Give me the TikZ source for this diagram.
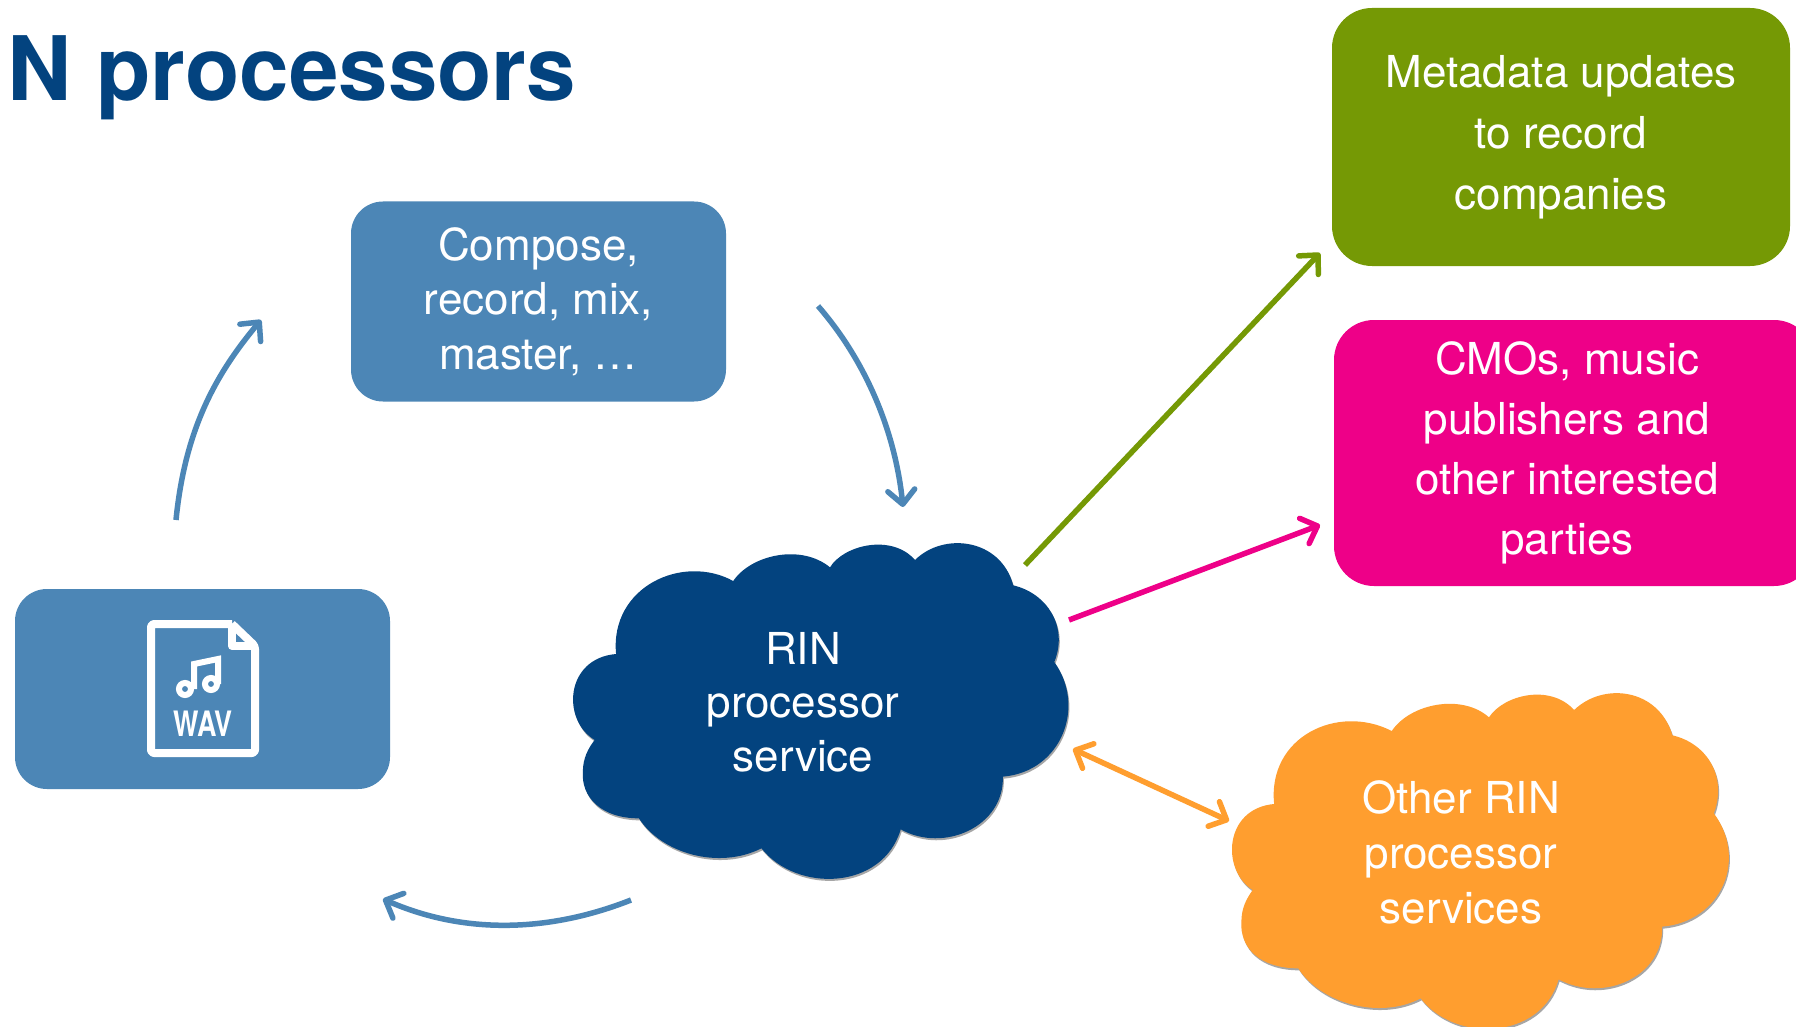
\documentclass[tikz,border=0pt]{standalone}
\usepackage{graphicx}
\usepackage{fontspec}
\setmainfont{TeX Gyre Heros}
\usetikzlibrary{arrows.meta}
\definecolor{navy}{HTML}{03437F}
\definecolor{steel}{HTML}{4C86B6}
\definecolor{olive}{HTML}{759905}
\definecolor{hotpink}{HTML}{EE0088}
\definecolor{amber}{HTML}{FF9E2F}
\tikzset{
  boxnode/.style={rounded corners=#1, inner sep=0pt, align=center, text=white},
  labeltext/.style={text=white, align=center, inner sep=0pt},
  arrowline/.style={line width=5.5pt, -{Straight Barb[length=14pt,width=27pt,round]}},
  arrowboth/.style={line width=5.5pt, {Straight Barb[length=14pt,width=27pt,round]}-{Straight Barb[length=14pt,width=27pt,round]}},
  iconline/.style={draw=white, line width=8pt, line join=round},
}
\newcommand{\bluecloud}{(541,213) .. controls (590,135) and (730,100) .. (812,172)
 .. controls (850,105) and (985,70) .. (1050,150)
 .. controls (1130,65) and (1290,85) .. (1325,226)
 .. controls (1420,250) and (1480,350) .. (1440,456)
 .. controls (1530,590) and (1460,785) .. (1296,800)
 .. controls (1300,950) and (1130,1030) .. (1010,958)
 .. controls (960,1140) and (720,1150) .. (620,1015)
 .. controls (500,1080) and (340,1030) .. (277,925)
 .. controls (170,925) and (115,860) .. (120,785)
 .. controls (120,745) and (135,715) .. (153,690)
 .. controls (60,630) and (70,445) .. (213,432)
 .. controls (195,230) and (400,130) .. (541,213) -- cycle}
\newcommand{\orangecloud}{(556,213) .. controls (610,130) and (760,100) .. (838,172)
 .. controls (880,105) and (1015,70) .. (1085,150)
 .. controls (1170,65) and (1330,85) .. (1370,226)
 .. controls (1470,250) and (1530,350) .. (1490,460)
 .. controls (1590,600) and (1510,785) .. (1340,800)
 .. controls (1345,950) and (1170,1030) .. (1040,958)
 .. controls (990,1140) and (740,1150) .. (640,1015)
 .. controls (520,1080) and (350,1030) .. (285,925)
 .. controls (170,925) and (115,860) .. (120,785)
 .. controls (120,745) and (135,715) .. (153,690)
 .. controls (60,630) and (70,445) .. (215,432)
 .. controls (195,230) and (400,130) .. (556,213) -- cycle}
\begin{document}
\begin{tikzpicture}[x=1pt,y=-1pt]
\clip (0,0) rectangle (1796,1027);
\fill[white] (0,0) rectangle (1796,1027);
% title
\node[anchor=base west, inner sep=0pt, text=navy, font=\fontsize{89}{89}\selectfont\bfseries] (title) at (7,101) {N processors};
% boxes
\node[boxnode=32pt, fill=steel, minimum width=375pt, minimum height=200pt, font=\fontsize{44}{54.5}\selectfont] (compose) at (538.5,301.5) {Compose,\\record, mix,\\master, …};
\node[boxnode=32pt, fill=steel, minimum width=375pt, minimum height=200pt] (wav) at (202.5,689) {};
\node[boxnode=40pt, fill=olive, minimum width=458pt, minimum height=258pt, font=\fontsize{44}{61}\selectfont] (meta) at (1561,137) {Metadata updates\\to record\\companies};
\node[boxnode=40pt, fill=hotpink, minimum width=480pt, minimum height=266pt] (cmo) at (1574,453) {};
\node[labeltext, font=\fontsize{44}{60}\selectfont] (cmotext) at (1567,453) {CMOs, music\\publishers and\\other interested\\parties};
% clouds
\begin{scope}[shift={(540pt,-510pt)}]
\end{scope}
\begin{scope}[x=0.35714pt,y=-0.33333pt,shift={(1512pt,-1530pt)}]
\end{scope}
\begin{scope}[cm={1/2.8,0,0,1/3,(540pt,510pt)},x=1pt,y=1pt,yscale=-1]
\end{scope}
\begin{scope}[shift={(540,510)},x=0.35714pt,y=-0.33333pt]
\end{scope}
% blue cloud: coordinates measured at 2.8x horizontally, 3x vertically
\begin{scope}[x=0.35714pt,y=-0.33333pt,xshift=540pt,yshift=-510pt]
\fill[black!35] [xshift=1pt,yshift=-2pt] \bluecloud;
\fill[navy] \bluecloud;
\end{scope}
\begin{scope}[x=0.34483pt,y=-0.33333pt,xshift=1200pt,yshift=-660pt]
\fill[black!35] [xshift=1pt,yshift=-2pt] \orangecloud;
\fill[amber] \orangecloud;
\end{scope}
\node[labeltext, font=\fontsize{44}{53.5}\selectfont] (rin) at (803,702) {RIN\\processor\\service};
\node[labeltext, font=\fontsize{44}{55}\selectfont] (other) at (1461,852) {Other RIN\\processor\\services};
% wav icon
\draw[iconline] (232,624) -- (155,624) [rounded corners=3pt] -- (151,624) -- (151,753) -- (255,753) -- (255,646) [sharp corners] -- (232,624);
\draw[iconline] (232,624) -- (232,646) -- (255,646);
\draw[draw=white, line width=6pt] (185,689) circle (6pt);
\draw[draw=white, line width=6pt] (211,684) circle (6pt);
\draw[draw=white, line width=6pt, line join=miter] (194,689) -- (194,664) -- (218,659) -- (218,684);
\node[inner sep=0pt, text=white, font=\fontsize{35}{35}\selectfont\bfseries] (wavtext) at (203,723.5) {\scalebox{.77}[1]{WAV}};
% connector ends
\coordinate (a1) at (176,520); \coordinate (b1) at (261,320);
\coordinate (a2) at (818,306); \coordinate (b2) at (903,507);
\coordinate (a3) at (631,900); \coordinate (b3) at (383,899);
\coordinate (a4) at (1025,565); \coordinate (b4) at (1320,253);
\coordinate (a5) at (1069,620); \coordinate (b5) at (1320,525);
\coordinate (a6) at (1073,749); \coordinate (b6) at (1229,821);
\draw[arrowline, steel] (a1) .. controls (185,430) and (215,375) .. (b1);
\draw[arrowline, steel] (a2) .. controls (865,360) and (895,430) .. (b2);
\draw[arrowline, steel] (a3) .. controls (550,932) and (465,935) .. (b3);
\draw[arrowline, olive] (a4) -- (b4);
\draw[arrowline, hotpink] (a5) -- (b5);
\draw[arrowboth, amber] (a6) -- (b6);
\end{tikzpicture}
\end{document}
